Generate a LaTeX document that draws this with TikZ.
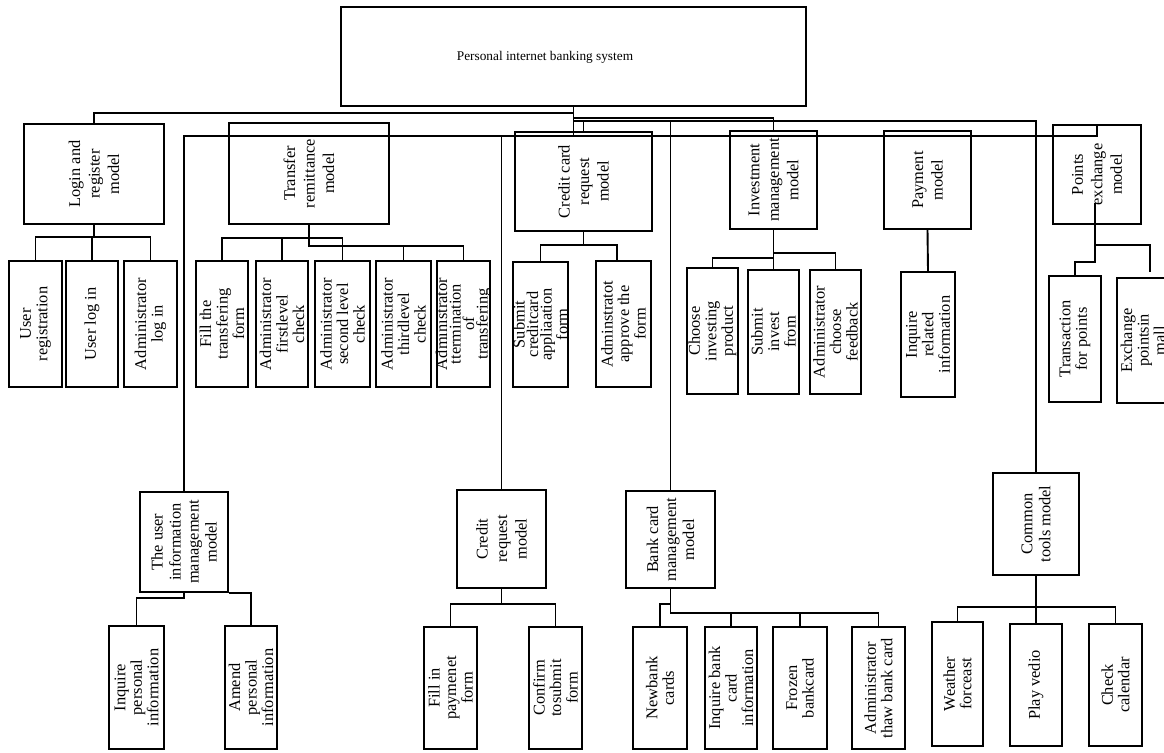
\documentclass[tikz,border=0pt]{standalone}
\usepackage{fontspec}
\setmainfont{Liberation Serif}
\usetikzlibrary{calc}

% \bx[text options]{name}{x1}{y1}{x2}{y2}{label}: a box with a label reading bottom to top
\newcommand\bx[7][]{%
  \node[box, minimum width={(#5-#3)*1pt}, minimum height={(#6-#4)*1pt}] (#2) at ({(#3+#5)/2},{(#4+#6)/2}) {};
  \node[txt,#1] (#2-t) at (#2.center) {#7};}

\begin{document}
\begin{tikzpicture}[x=1pt,y=-1pt,
  box/.style={draw, line width=1.9pt, inner sep=0pt},
  txt/.style={rotate=90, align=center, inner sep=0pt, font=\fontsize{16.4}{16.5}\selectfont},
  module/.style={font=\fontsize{16.4}{19.5}\selectfont},
  mid/.style={font=\fontsize{16.4}{18}\selectfont},
  tight/.style={font=\fontsize{16.4}{13.5}\selectfont},
  wire/.style={line width=1.9pt}]
\useasboundingbox (0,0) rectangle (1164,752);
\clip (0,0) rectangle (1164,752);

% root
\node[box, minimum width=465pt, minimum height=99pt] (root) at (573.5,56.5) {};
\node[inner sep=0pt, font=\fontsize{13.3}{15}\selectfont] (root-t) at (545,57) {Personal internet banking system};

% first level modules
\bx[module]{login}{24}{124}{164}{224}{Login and\\register\\model}
\bx[module]{trans}{229}{123}{389}{224}{Transfer\\remittance\\model}
\bx[module]{cc}{515}{132}{652}{231}{Credit card\\request\\model}
\bx[module]{inv}{730}{131}{817}{229}{Investment\\management\\model}
\bx[module]{pay}{884}{131}{971}{229}{Payment\\model}
\bx[module]{pts}{1053}{125}{1141}{224}{Points\\exchange\\model}

% login children
\bx{ureg}{9}{261}{62}{387}{User\\registration}
\bx{ulog}{66}{261}{118}{387}{User log in}
\bx{alog}{124}{261}{177}{387}{Administrator\\log in}

% transfer children
\bx{fill}{196}{261}{248}{387}{Fill the\\transfering\\form}
\bx{first}{256}{261}{308}{387}{Administrator\\firstlevel\\check}
\bx{sec}{315}{261}{370}{387}{Administrator\\second level\\check}
\bx{third}{376}{261}{431}{387}{Administrator\\thirdlevel\\check}
\bx[tight]{term}{437}{261}{490}{387}{Administrator\\ttermination\\of\\transfering}

% credit card children
\bx[tight]{subm}{513}{262}{568}{387}{Submit\\creditcard\\appliaation\\form}
\bx{appr}{596}{261}{651}{387}{Adminstratot\\approve the\\form}

% investment children
\bx{choose}{687}{268}{738}{394}{Choose\\investing\\product}
\bx{subi}{748}{270}{799}{394}{Submit\\invest\\from}
\bx{feed}{810}{270}{861}{394}{Administrator\\choose\\feedback}

% payment child
\bx{inqr}{901}{272}{955}{397}{Inquire\\related\\information}

% points children
\bx{trpt}{1049}{276}{1101}{402}{Transaction\\for points}
\bx{exch}{1117}{278}{1169}{403}{Exchange\\pointsin\\mall}

% lower modules
\bx[mid]{uim}{140}{492}{228}{592}{The user\\information\\management\\model}
\bx[module]{cr}{457}{490}{546}{588}{Credit\\request\\model}
\bx[mid]{bcm}{626}{491}{715}{588}{Bank card\\management\\model}
\bx[mid]{ct}{993}{473}{1079}{575}{Common\\tools model}

% lower children
\bx{inqp}{109}{626}{164}{749}{Inquire\\personal\\information}
\bx{amend}{225}{626}{277}{749}{Amend\\personal\\information}
\bx{fillp}{424}{627}{477}{749}{Fill in\\paymenet\\form}
\bx{conf}{529}{627}{582}{749}{Confirm\\tosubmit\\form}
\bx{newb}{633}{627}{687}{749}{Newbank\\cards}
\bx{inqb}{705}{627}{757}{749}{Inquire bank\\card\\information}
\bx{froz}{773}{627}{827}{749}{Frozen\\bankcard}
\bx{thaw}{852}{627}{905}{749}{Administrator\\thaw bank card}
\bx{wea}{932}{622}{983}{746}{Weather\\forceast}
\bx{play}{1010}{624}{1062}{746}{Play vedio}
\bx{chk}{1089}{624}{1142}{746}{Check\\calendar}

% helper levels
\coordinate (h113) at (0,113);
\coordinate (h118) at (0,118);
\coordinate (h121) at (0,121);
\coordinate (h136) at (0,136);
\coordinate (k836) at (836,121);
\coordinate (ptin) at (1097,126);

% connectors from the root
\draw[wire] (root.south) -- (root.south |- h136);
\draw[wire] (login.north) |- (root.south |- h113);
\draw[wire] (uim.north) |- (ptin |- h136) -- (ptin);
\draw[wire] (cr.north) -- (cr.north |- h136);
\draw[wire] (root.south |- h118) -| (inv.north);
\draw[wire, line width=2.7pt] (root.south |- h121) -- (k836);
\draw[wire] (k836) -| (ct.north);
\draw[wire] (cc.north) -- (cc.north |- h121);
\draw[wire] (bcm.north) -- (bcm.north |- h121);

% login branch
\coordinate (lb) at (0,237);
\draw[wire] (login.south) -- (login.south |- lb);
\draw[wire] (ureg.north) |- (login.south |- lb) -| (alog.north);
\draw[wire] (ulog.north) -- (ulog.north |- lb);

% transfer branch
\coordinate (tb1) at (0,238);
\coordinate (tb2) at (0,246);
\draw[wire] (fill.north) |- (tb1 -| sec.north) -- (sec.north);
\draw[wire] (first.north) -- (first.north |- tb1);
\draw[wire] (trans.south) |- (term.north |- tb2) -- (term.north);
\draw[wire] (third.north) -- (third.north |- tb2);

% credit card branch
\coordinate (cb) at (0,245);
\coordinate (apin) at (617,261);
\draw[wire] (cc.south) -- (cc.south |- cb);
\draw[wire] (subm.north) |- (apin |- cb) -- (apin);

% investment branch
\coordinate (ib1) at (0,258);
\coordinate (ib2) at (0,253);
\draw[wire] (inv.south) -- (subi.north);
\draw[wire] (choose.north) |- (inv.south |- ib1);
\draw[wire] (inv.south |- ib2) -| (feed.north);

% payment branch
\draw[wire] (pay.south) -- (inqr.north);

% points branch
\coordinate (p1) at (1095,203);
\coordinate (pb1) at (1095,262);
\coordinate (pb2) at (1095,245);
\coordinate (pxe) at (1150,272);
\draw[wire] (p1) -- (pb1) -| (trpt.north);
\draw[wire] (pb2) -| (pxe);

% user information branch
\draw[wire] (uim.south) -- ++(0,5) -| (inqp.north);
\draw[wire] (uim.south east) -| (amend.north);

% credit request branch
\coordinate (crb) at (0,604);
\draw[wire] (cr.south) -- (cr.south |- crb);
\draw[wire] (fillp.north) |- (cr.south |- crb) -| (conf.north);

% bank card branch
\coordinate (bb) at (0,613);
\coordinate (bn) at (0,604);
\draw[wire] (bcm.south) -- (bcm.south |- bb) -| (thaw.north);
\draw[wire] (inqb.north) -- (inqb.north |- bb);
\draw[wire] (froz.north) -- (froz.north |- bb);
\draw[wire] (bcm.south |- bn) -| (newb.north);

% common tools branch
\coordinate (ctb) at (0,607);
\draw[wire] (ct.south) -- (play.north);
\draw[wire] (wea.north) |- (ct.south |- ctb) -| (chk.north);
\end{tikzpicture}
\end{document}
